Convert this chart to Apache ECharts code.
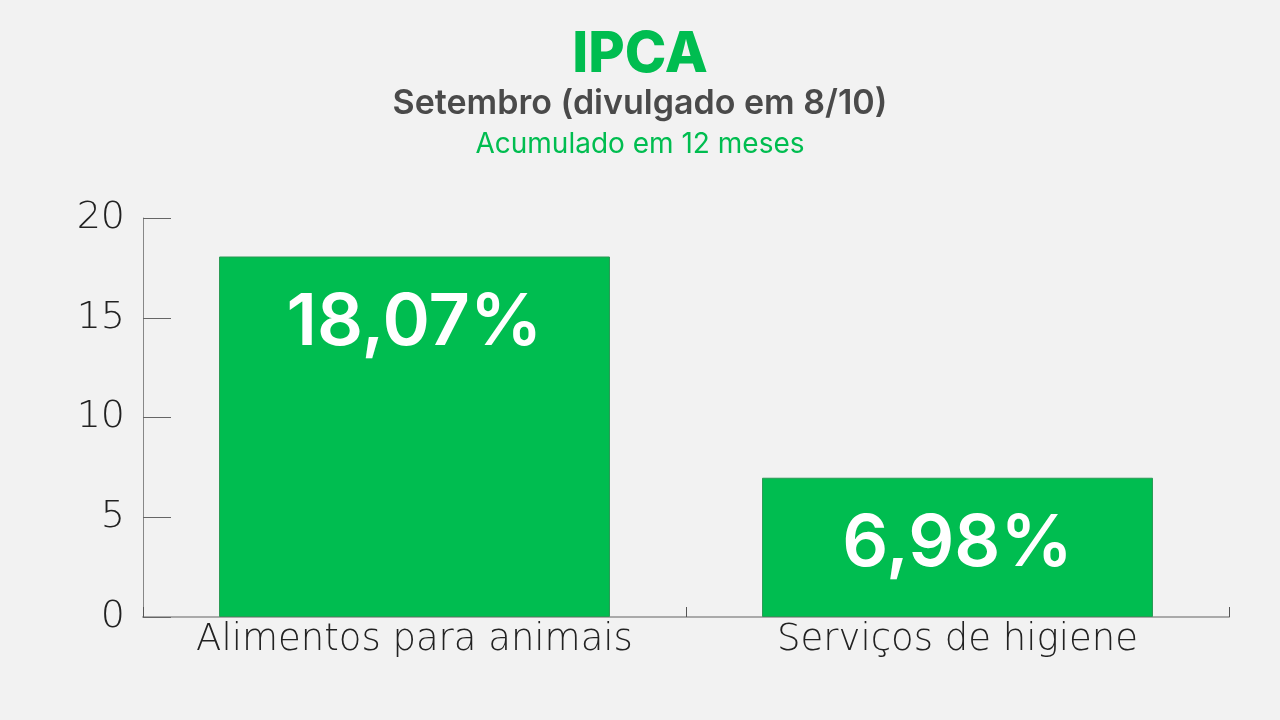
<!DOCTYPE html>
<html><head><meta charset="utf-8">
<script src="https://cdn.jsdelivr.net/npm/echarts@6/dist/echarts.min.js"></script>
<style>html,body{margin:0;padding:0;background:#f2f2f2}#c{width:1280px;height:720px}</style>
</head><body><div id="c"></div>
<script>
const categories = ['Alimentos para animais', 'Serviços de higiene'];
const values = [18.07, 6.98];
const valueLabels = ['18,07%', '6,98%'];
const yTicks = [0, 5, 10, 15, 20];

const green = '#00bd50';
const chart = echarts.init(document.getElementById('c'));
chart.setOption({
  backgroundColor: '#f2f2f2',
  animation: false,
  title: [
    {text: 'IPCA', left: 'center', top: 22, textStyle: {fontFamily: 'Inter', fontWeight: 800, fontSize: 56, color: green}},
    {text: 'Setembro (divulgado em 8/10)', left: 'center', top: 82, textStyle: {fontFamily: 'Inter', fontWeight: 600, fontSize: 34, color: '#4a4a4a'}},
    {text: 'Acumulado em 12 meses', left: 'center', top: 126, textStyle: {fontFamily: 'Inter', fontWeight: 400, fontSize: 28, color: green}}
  ],
  grid: {left: 143, right: 51, top: 218, bottom: 103, containLabel: false},
  xAxis: {
    type: 'category', data: categories,
    axisLine: {lineStyle: {color: '#aaaaaa', width: 2}},
    axisTick: {show: true, interval: 0, inside: true, length: 10, lineStyle: {color: '#555555', width: 1}},
    axisLabel: {interval: 0, hideOverlap: false, fontFamily: 'DejaVu Sans', fontWeight: 200, fontSize: 37, color: '#222222', margin: 5}
  },
  yAxis: {
    type: 'value', min: yTicks[0], max: yTicks[yTicks.length - 1], interval: 5,
    splitLine: {show: false},
    axisLine: {show: true, lineStyle: {color: '#888888', width: 1}},
    axisTick: {show: true, inside: true, length: 28, lineStyle: {color: '#666666', width: 1}},
    axisLabel: {fontFamily: 'DejaVu Sans', fontWeight: 200, fontSize: 38, color: '#222222', margin: 18}
  },
  series: [{
    type: 'bar', data: values, barWidth: '72%',
    itemStyle: {color: green, borderColor: '#2a9a55', borderWidth: 1},
    label: {
      show: true, position: 'insideTop', distance: 31,
      formatter: p => valueLabels[p.dataIndex],
      fontFamily: 'Inter', fontWeight: 600, fontSize: 72, color: '#ffffff'
    }
  }]
});
</script></body></html>
